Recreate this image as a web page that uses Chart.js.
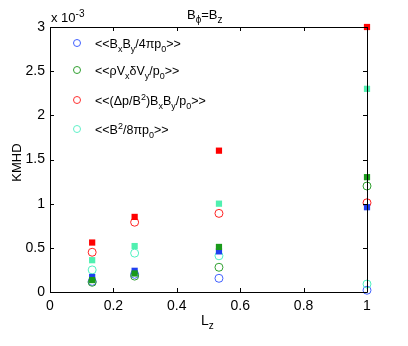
<!DOCTYPE html>
<html>
<head>
<meta charset="utf-8">
<script src="https://cdn.jsdelivr.net/npm/chart.js@4.4.1/dist/chart.umd.min.js"></script>
<style>
  body { margin: 0; background: #fff; }
  #wrap { position: relative; width: 408px; height: 346px; font-family: "Liberation Sans", Arial, sans-serif; color: #000; }
  #wrap canvas { position: absolute; left: 0; top: 0; }
  .lbl { position: absolute; font-size: 13px; white-space: nowrap; line-height: 1; }
  .lbl sub, .lbl sup { font-size: 10px; line-height: 0; }
  .leg { position: absolute; left: 95px; font-size: 12.5px; white-space: nowrap; line-height: 1; }
  .leg sub, .leg sup { font-size: 9px; line-height: 0; }
  .dot { position: absolute; left: 73px; width: 6px; height: 6px; border-radius: 50%; border: 1px solid; }
</style>
</head>
<body>
<div id="wrap">
  <canvas id="chart1" width="408" height="346"></canvas>
  <div class="lbl" style="left:51px;top:11px;">x 10<sup>-3</sup></div>
  <div class="lbl" style="left:187px;top:8px;">B<sub>ϕ</sub>=B<sub>z</sub></div>
  <div class="lbl" style="left:201px;top:313px;font-size:14px;">L<sub>z</sub></div>
  <div class="lbl" style="left:-3px;top:156px;transform:rotate(-90deg);">KMHD</div>

  <div class="dot" style="top:39px;border-color:#4060ff;"></div>
  <div class="leg" style="top:38px;">&lt;&lt;B<sub>x</sub>B<sub>y</sub>/4πp<sub>0</sub>&gt;&gt;</div>
  <div class="dot" style="top:66px;border-color:#30a030;"></div>
  <div class="leg" style="top:65px;">&lt;&lt;ρV<sub>x</sub>δV<sub>y</sub>/p<sub>0</sub>&gt;&gt;</div>
  <div class="dot" style="top:96px;border-color:#ff3030;"></div>
  <div class="leg" style="top:95px;">&lt;&lt;(Δp/B<sup>2</sup>)B<sub>x</sub>B<sub>y</sub>/p<sub>0</sub>&gt;&gt;</div>
  <div class="dot" style="top:125px;border-color:#60f0c8;"></div>
  <div class="leg" style="top:124px;">&lt;&lt;B<sup>2</sup>/8πp<sub>0</sub>&gt;&gt;</div>
</div>
<script>
// L_z positions
const lz = [0.133, 0.267, 0.533, 1.0];

// values in units of 1e-3 (filled squares / open circles)
const bxbySq   = [0.17, 0.24, 0.46, 0.96];
const bxbyCirc = [0.12, 0.20, 0.155, 0.02];
const rvvSq    = [0.135, 0.21, 0.51, 1.30];
const rvvCirc  = [0.11, 0.18, 0.28, 1.20];
const dpSq     = [0.56, 0.85, 1.60, 3.00];
const dpCirc   = [0.45, 0.79, 0.89, 1.01];
const b2Sq     = [0.36, 0.52, 1.00, 2.30];
const b2Circ   = [0.25, 0.44, 0.41, 0.09];

const xTicks = [0, 0.2, 0.4, 0.6, 0.8, 1];
const yTicks = [0, 0.5, 1, 1.5, 2, 2.5, 3];

function pts(vals) {
  return vals.map((v, i) => ({ x: lz[i], y: v }));
}

function sq(vals, color) {
  return {
    data: pts(vals), pointStyle: 'rect', pointRadius: 4.4, pointHoverRadius: 4.4,
    backgroundColor: color, borderColor: color, borderWidth: 0, clip: false,
  };
}

function circ(vals, color) {
  return {
    data: pts(vals), pointStyle: 'circle', pointRadius: 4, pointHoverRadius: 4,
    backgroundColor: 'rgba(0,0,0,0)', borderColor: color, borderWidth: 1, clip: false,
  };
}

// matlab style box + inward ticks
const boxTicks = {
  id: 'boxTicks',
  afterDraw(chart) {
    const { ctx, chartArea: a, scales: { x, y } } = chart;
    ctx.save();
    ctx.strokeStyle = '#000';
    ctx.lineWidth = 1;
    ctx.beginPath();
    ctx.rect(a.left + 0.5, a.top + 0.5, a.right - a.left, a.bottom - a.top);
    xTicks.forEach(t => {
      const px = Math.round(x.getPixelForValue(t)) + 0.5;
      ctx.moveTo(px, a.bottom); ctx.lineTo(px, a.bottom - 4);
      ctx.moveTo(px, a.top); ctx.lineTo(px, a.top + 4);
    });
    yTicks.forEach(t => {
      const py = Math.round(y.getPixelForValue(t)) + 0.5;
      ctx.moveTo(a.left, py); ctx.lineTo(a.left + 4, py);
      ctx.moveTo(a.right, py); ctx.lineTo(a.right - 4, py);
    });
    ctx.stroke();
    ctx.restore();
  }
};

const tickFont = { family: '"Liberation Sans", Arial, sans-serif', size: 14 };

new Chart(document.getElementById('chart1'), {
  type: 'scatter',
  data: {
    datasets: [
      sq(dpSq, '#ff0000'),
      sq(b2Sq, '#50f0b0'),
      sq(rvvSq, '#1a9a1a'),
      sq(bxbySq, '#2040f0'),
      circ(dpCirc, '#ff2020'),
      circ(b2Circ, '#50f0c0'),
      circ(rvvCirc, '#30a030'),
      circ(bxbyCirc, '#4060ff'),
    ],
  },
  options: {
    responsive: false,
    animation: false,
    devicePixelRatio: 1,
    layout: { padding: { top: 27, right: 41, left: 0, bottom: 0 } },
    plugins: { legend: { display: false }, tooltip: { enabled: false } },
    scales: {
      x: {
        type: 'linear', min: 0, max: 1,
        afterFit: s => { s.height = 54; },
        afterBuildTicks: s => { s.ticks = xTicks.map(v => ({ value: v })); },
        grid: { display: false, drawTicks: false },
        border: { display: false },
        ticks: { color: '#000', font: tickFont, padding: 6, maxRotation: 0,
                 callback: v => String(v) },
      },
      y: {
        type: 'linear', min: 0, max: 3,
        afterFit: s => { s.width = 50; },
        afterBuildTicks: s => { s.ticks = yTicks.map(v => ({ value: v })); },
        grid: { display: false, drawTicks: false },
        border: { display: false },
        ticks: { color: '#000', font: tickFont, padding: 5,
                 callback: v => String(v) },
      },
    },
  },
  plugins: [boxTicks],
});
</script>
</body>
</html>
